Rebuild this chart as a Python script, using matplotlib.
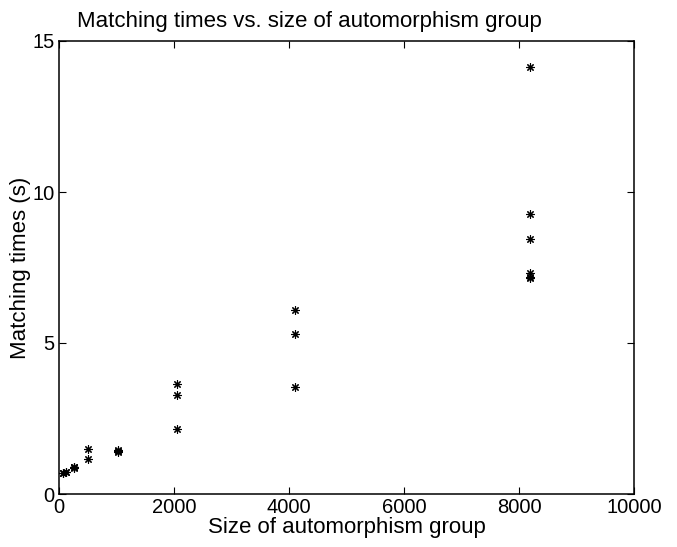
import numpy as np
import matplotlib
matplotlib.use("Agg")
import matplotlib.pyplot as plt

plt.rcParams['font.family'] = ['Liberation Sans', 'DejaVu Sans']

# group sizes and matching times (s)
group_size = [64, 64, 128, 128, 256, 256, 256, 512, 512,
              1024, 1024, 1024, 2048, 2048, 2048, 4096, 4096, 4096,
              8192, 8192, 8192, 8192, 8192, 8192]
match_time = [0.68, 0.70, 0.72, 0.74, 0.85, 0.88, 0.90, 1.48, 1.15,
              1.40, 1.42, 1.45, 3.63, 3.28, 2.14, 6.09, 5.29, 3.55,
              14.15, 9.27, 8.46, 7.31, 7.20, 7.14]

xticks = [0, 2000, 4000, 6000, 8000, 10000]
yticks = [0, 5, 10, 15]

fig = plt.figure(figsize=(6.77, 5.47), dpi=100)
ax = fig.add_axes([59/677, 1 - 494/547, 575/677, 453/547])

ax.plot(group_size, match_time, linestyle='none', marker=(8, 2, 0),
        markersize=6, color='black', markeredgewidth=0.8)

ax.set_xlim(0, 10000)
ax.set_ylim(0, 15)
ax.set_xticks(xticks)
ax.set_yticks(yticks)
ax.tick_params(direction='in', top=True, right=True, labelsize=14.5,
               length=5, width=0.8, pad=3)
for s in ax.spines.values():
    s.set_linewidth(1.1)

ax.set_xlabel('Size of automorphism group', fontsize=16, labelpad=0)
ax.set_ylabel('Matching times (s)', fontsize=16, labelpad=1)
# title sits left of centre in the original
fig.text(77/677, 1 - 27/547, 'Matching times vs. size of automorphism group',
         fontsize=16, ha='left', va='baseline')

fig.savefig('out.png', dpi=100)
